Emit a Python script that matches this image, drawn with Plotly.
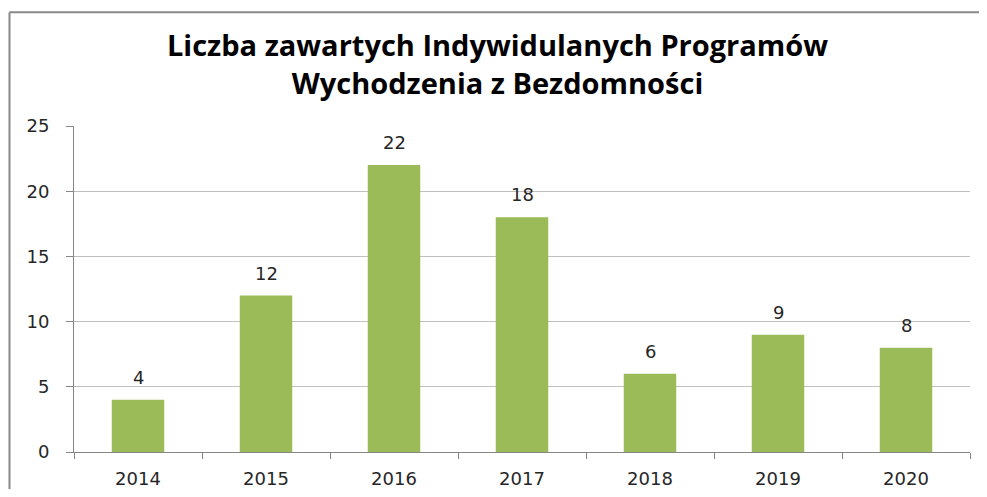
import plotly.graph_objects as go

years = ["2014", "2015", "2016", "2017", "2018", "2019", "2020"]
counts = [4, 12, 22, 18, 6, 9, 8]
y_ticks = [0, 5, 10, 15, 20, 25]

title_text = "Liczba zawartych Indywidulanych Programów<br>Wychodzenia z Bezdomności"

FIG_W, FIG_H = 979, 481  # page body adds 8px around, keep it inside the window

fig = go.Figure(
    go.Bar(
        x=years,
        y=counts,
        marker_color="#9BBB59",
        marker_line_width=0,
        width=0.41,
        hoverinfo="x+y",
    )
)

# value labels; category index is used because "2014" would be read as a number
for i, value in enumerate(counts):
    fig.add_annotation(
        x=i, y=value, text=str(value), showarrow=False,
        yanchor="bottom", yshift=10,
        font=dict(family="DejaVu Sans", size=18, color="#262626"),
    )

# chart border: only top and left edges are visible in the source picture
border = dict(color="#888888", width=2)
fig.add_shape(type="line", xref="paper", yref="paper",
              x0=-0.072, x1=1.2, y0=1.349, y1=1.349, line=border)
fig.add_shape(type="line", xref="paper", yref="paper",
              x0=-0.072, x1=-0.072, y0=-0.4, y1=1.349, line=border)

fig.update_layout(
    width=FIG_W,
    height=FIG_H,
    margin=dict(l=66, r=17, t=118, b=37),
    paper_bgcolor="white",
    plot_bgcolor="white",
    showlegend=False,
    title=dict(
        text=title_text,
        x=0.5, xref="container", xanchor="center",
        y=1 - 48 / FIG_H, yref="container", yanchor="middle",
        font=dict(family="Open Sans", size=29, color="black", weight="bold"),
    ),
    font=dict(family="DejaVu Sans", size=18, color="#262626"),
)

fig.update_xaxes(
    type="category",
    range=[-0.5, len(years) - 0.5],
    showline=True, linecolor="#868686", linewidth=1,
    ticks="outside", tickson="boundaries", ticklen=6, tickcolor="#868686",
    ticklabelstandoff=10,
    showgrid=False,
    tickangle=0,
    automargin=False,
    tickfont=dict(size=18),
)
fig.update_yaxes(
    range=[0, 25],
    tickvals=y_ticks,
    showline=True, linecolor="#868686", linewidth=1,
    ticks="outside", ticklen=7, tickcolor="#868686",
    ticklabelstandoff=13,
    showgrid=True, gridcolor="#BFBFBF", gridwidth=1,
    zeroline=False,
    automargin=False,
    tickfont=dict(size=18),
)

fig.write_html("out.html")
